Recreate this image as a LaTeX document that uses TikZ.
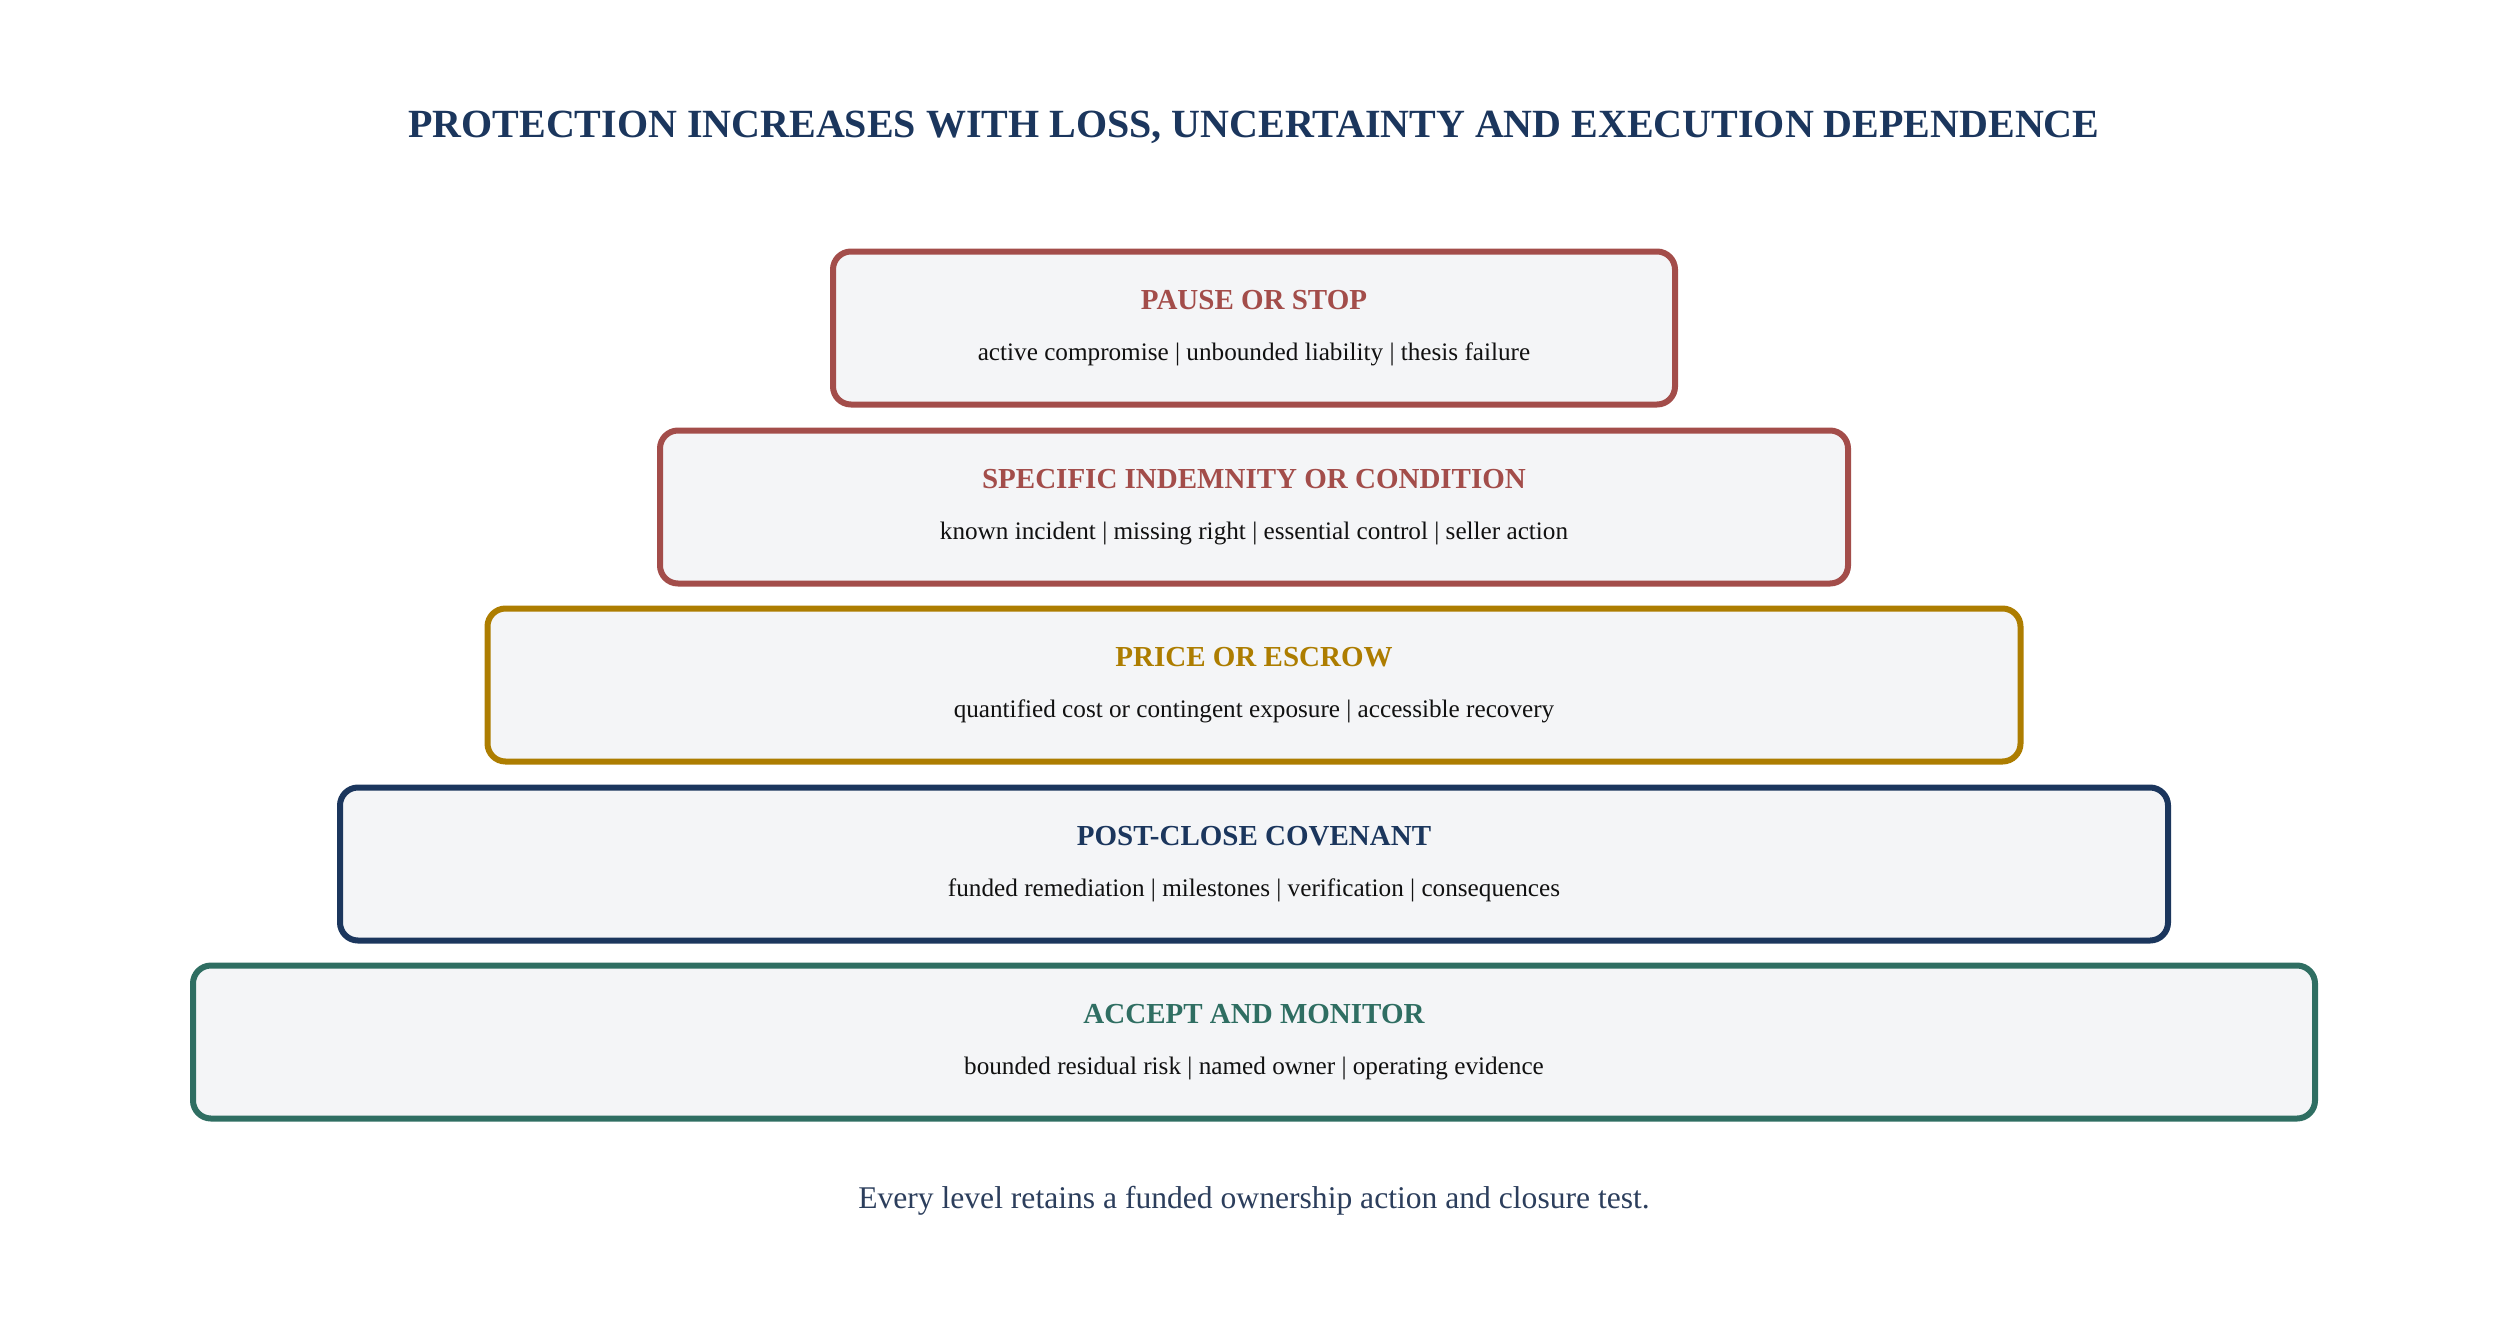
\documentclass[tikz,border=0pt]{standalone}
\usepackage{fontspec}
\setmainfont{Liberation Serif}
\definecolor{navy}{HTML}{1B365D}
\definecolor{brick}{HTML}{A34D4A}
\definecolor{ochre}{HTML}{AD7D00}
\definecolor{pine}{HTML}{2F6E62}
\definecolor{tierfill}{HTML}{F4F5F7}
\definecolor{notetext}{HTML}{111111}
\definecolor{foottext}{HTML}{2C3E5C}
\begin{document}
\begin{tikzpicture}[x=1pt,y=-1pt,
  tier/.style={rectangle, rounded corners=18pt, line width=6pt, fill=tierfill, minimum height=153pt, inner sep=0pt},
  tiername/.style={anchor=base, inner sep=0pt, font=\fontsize{29}{31}\selectfont\bfseries},
  tiernote/.style={anchor=base, inner sep=0pt, text=notetext, font=\fontsize{25.2}{27}\selectfont}]
\useasboundingbox (0,0) rectangle (2508,1320);
\node[anchor=base, inner sep=0pt, text=navy, font=\fontsize{40}{44}\selectfont\bfseries] (title) at (1254,137) {PROTECTION INCREASES WITH LOSS, UNCERTAINTY AND EXECUTION DEPENDENCE};
\node[tier, draw=brick, minimum width=842pt] (stop) at (1254,328){};
\node[tiername, text=brick] (stopname) at (1254,309){PAUSE OR STOP};
\node[tiernote] (stopnote) at (1254,360){active compromise | unbounded liability | thesis failure};
\node[tier, draw=brick, minimum width=1188pt] (indem) at (1254,507){};
\node[tiername, text=brick] (indemname) at (1254,488){SPECIFIC INDEMNITY OR CONDITION};
\node[tiernote] (indemnote) at (1254,539){known incident | missing right | essential control | seller action};
\node[tier, draw=ochre, minimum width=1533pt] (escrow) at (1254,685){};
\node[tiername, text=ochre] (escrowname) at (1254,666){PRICE OR ESCROW};
\node[tiernote] (escrownote) at (1254,717){quantified cost or contingent exposure | accessible recovery};
\node[tier, draw=navy, minimum width=1828pt] (cov) at (1254,864){};
\node[tiername, text=navy] (covname) at (1254,845){POST-CLOSE COVENANT};
\node[tiernote] (covnote) at (1254,896){funded remediation | milestones | verification | consequences};
\node[tier, draw=pine, minimum width=2122pt] (accept) at (1254,1042){};
\node[tiername, text=pine] (acceptname) at (1254,1023){ACCEPT AND MONITOR};
\node[tiernote] (acceptnote) at (1254,1074){bounded residual risk | named owner | operating evidence};
\node[anchor=base, inner sep=0pt, text=foottext, font=\fontsize{31.6}{34}\selectfont] (foot) at (1254,1208){Every level retains a funded ownership action and closure test.};
\end{tikzpicture}
\end{document}
